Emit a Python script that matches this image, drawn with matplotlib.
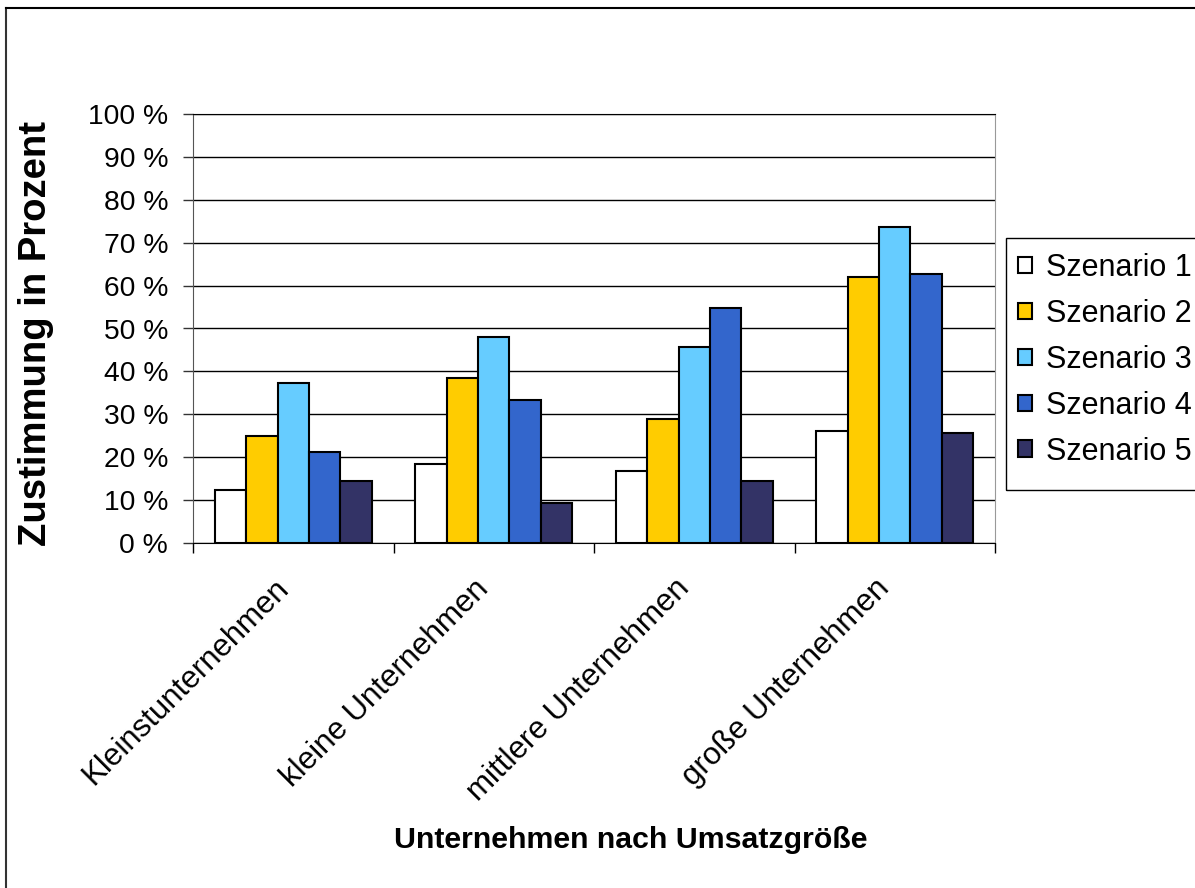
import numpy as np
import matplotlib.pyplot as plt
import matplotlib.transforms as mtransforms
from matplotlib.lines import Line2D
from matplotlib.patches import Rectangle

plt.rcParams['font.family'] = ['Liberation Sans', 'DejaVu Sans']

categories = ['Kleinstunternehmen', 'kleine Unternehmen', 'mittlere Unternehmen', 'große Unternehmen']
series = ['Szenario 1', 'Szenario 2', 'Szenario 3', 'Szenario 4', 'Szenario 5']
szenario1 = [12.3, 18.4, 16.8, 26.2]
szenario2 = [25.0, 38.5, 29.0, 61.9]
szenario3 = [37.4, 48.0, 45.8, 73.7]
szenario4 = [21.2, 33.4, 54.8, 62.6]
szenario5 = [14.5, 9.3, 14.5, 25.7]
colors = ['#FFFFFF', '#FFCC00', '#66CCFF', '#3366CC', '#333366']


def main():
    W, H = 1195, 888
    fig = plt.figure(figsize=(W / 100, H / 100), dpi=100)
    ax = fig.add_axes([193 / W, 1 - 543 / H, (995 - 193) / W, (543 - 114) / H])

    data = [szenario1, szenario2, szenario3, szenario4, szenario5]
    x = np.arange(len(categories))
    bw = 0.157
    for i, (vals, name, col) in enumerate(zip(data, series, colors)):
        ax.bar(x + (i - 2) * bw, vals, bw, color=col, edgecolor='black',
               linewidth=1.5, label=name, zorder=3)

    ax.set_xlim(-0.5, len(categories) - 0.5)
    ax.set_ylim(0, 100)
    ax.set_yticks(np.arange(0, 101, 10))
    ax.set_yticklabels(['%d %%' % v for v in range(0, 101, 10)], fontsize=20.3)
    ax.yaxis.grid(True, color='black', linewidth=1, zorder=0)
    ax.tick_params(axis='y', direction='out', length=7, width=1, pad=11, colors='#333333')
    ax.tick_params(axis='y', labelcolor='black')

    ax.set_xticks(np.arange(-0.5, len(categories)), minor=False)
    ax.set_xticklabels([])
    ax.set_xticks(x, minor=True)
    ax.set_xticklabels(categories, minor=True, rotation=45, ha='right',
                       rotation_mode='anchor', fontsize=22.5)
    ax.tick_params(axis='x', which='minor', length=0, pad=22)
    ax.tick_params(axis='x', which='major', direction='out', length=7, width=1)
    shift = mtransforms.ScaledTranslation(-20 / 100, 0, fig.dpi_scale_trans)
    for lab in ax.get_xticklabels(minor=True):
        lab.set_transform(lab.get_transform() + shift)

    ax.spines['left'].set_color('#555555')
    ax.spines['bottom'].set_color('black')
    ax.spines['right'].set_color('#999999')
    ax.spines['top'].set_color('black')

    fig.text(36 / W, 1 - 333 / H, 'Zustimmung in Prozent', rotation=90,
             ha='center', va='center', fontsize=27.5, fontweight='bold')
    fig.text(631 / W, 1 - 840 / H, 'Unternehmen nach Umsatzgröße',
             ha='center', va='center', fontsize=21.8, fontweight='bold')

    # legend without its own frame; the box is drawn separately (taller at the bottom)
    fig.legend(loc='upper left', bbox_to_anchor=(1018 / W, 1 - 253 / H),
               fontsize=22, frameon=False,
               handlelength=0.45, handleheight=0.45, handletextpad=0.48,
               labelspacing=0.52, borderpad=0.0, borderaxespad=0)
    fig.add_artist(Rectangle((1006 / W, 1 - 490 / H), (1210 - 1006) / W, (490 - 238) / H,
                             transform=fig.transFigure, fill=False,
                             edgecolor='black', linewidth=1))

    fig.add_artist(Line2D([6 / W, 6 / W], [0, 1 - 8 / H], color='#333333', linewidth=1.5))
    fig.add_artist(Line2D([6 / W, 1], [1 - 8 / H, 1 - 8 / H], color='black', linewidth=1.5))

    fig.savefig('out.png', dpi=100)


if __name__ == '__main__':
    main()
